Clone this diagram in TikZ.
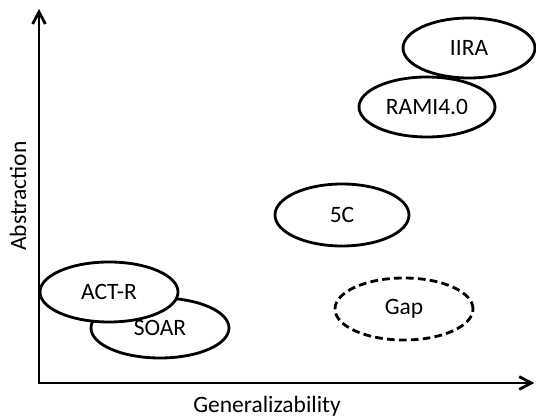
\documentclass[tikz,border=0pt]{standalone}
\usepackage{fontspec}
\setmainfont{Carlito}
\usetikzlibrary{shapes.geometric,arrows.meta}

\tikzset{
  axis/.style={line width=2pt, {Straight Barb[length=3mm,width=3.2mm]}-{Straight Barb[length=3mm,width=3.2mm]}},
  blob/.style={ellipse, draw, line width=2pt, fill=white, inner sep=0pt},
  gapblob/.style={blob, dash pattern=on 5.5pt off 3pt},
  lbl/.style={font=\fontsize{16.7}{20}\selectfont}
}

\begin{document}
\begin{tikzpicture}
    \useasboundingbox (-0.975,-0.85) rectangle (12.425,9.575);

    % axes
    \coordinate (o) at (0,0);
    \coordinate (ytop) at (0,9.35);
    \coordinate (xend) at (12.38,0);
    \draw[axis] (ytop) |- (xend);

    \node[lbl,rotate=90] (ylab) at (-0.525,4.675) {Abstraction};
    \node[lbl] (xlab) at (5.7,-0.575) {Generalizability};

    % frameworks
    \node[blob,lbl,minimum width=3.3cm,minimum height=1.5cm] (iira) at (10.75,8.375) {IIRA};
    \node[blob,lbl,minimum width=3.4cm,minimum height=1.5cm] (rami) at (9.7,6.9) {RAMI4.0};
    \node[blob,lbl,minimum width=3.35cm,minimum height=1.55cm] (fivec) at (7.575,4.2) {5C};
    \node[gapblob,lbl,minimum width=3.45cm,minimum height=1.55cm] (gap) at (9.125,1.85) {Gap};

    \node[blob,lbl,minimum width=3.45cm,minimum height=1.5cm] (soar) at (3.025,1.375) {SOAR};
    \node[blob,lbl,minimum width=3.45cm,minimum height=1.5cm] (actr) at (1.75,2.275) {ACT-R};
\end{tikzpicture}
\end{document}
